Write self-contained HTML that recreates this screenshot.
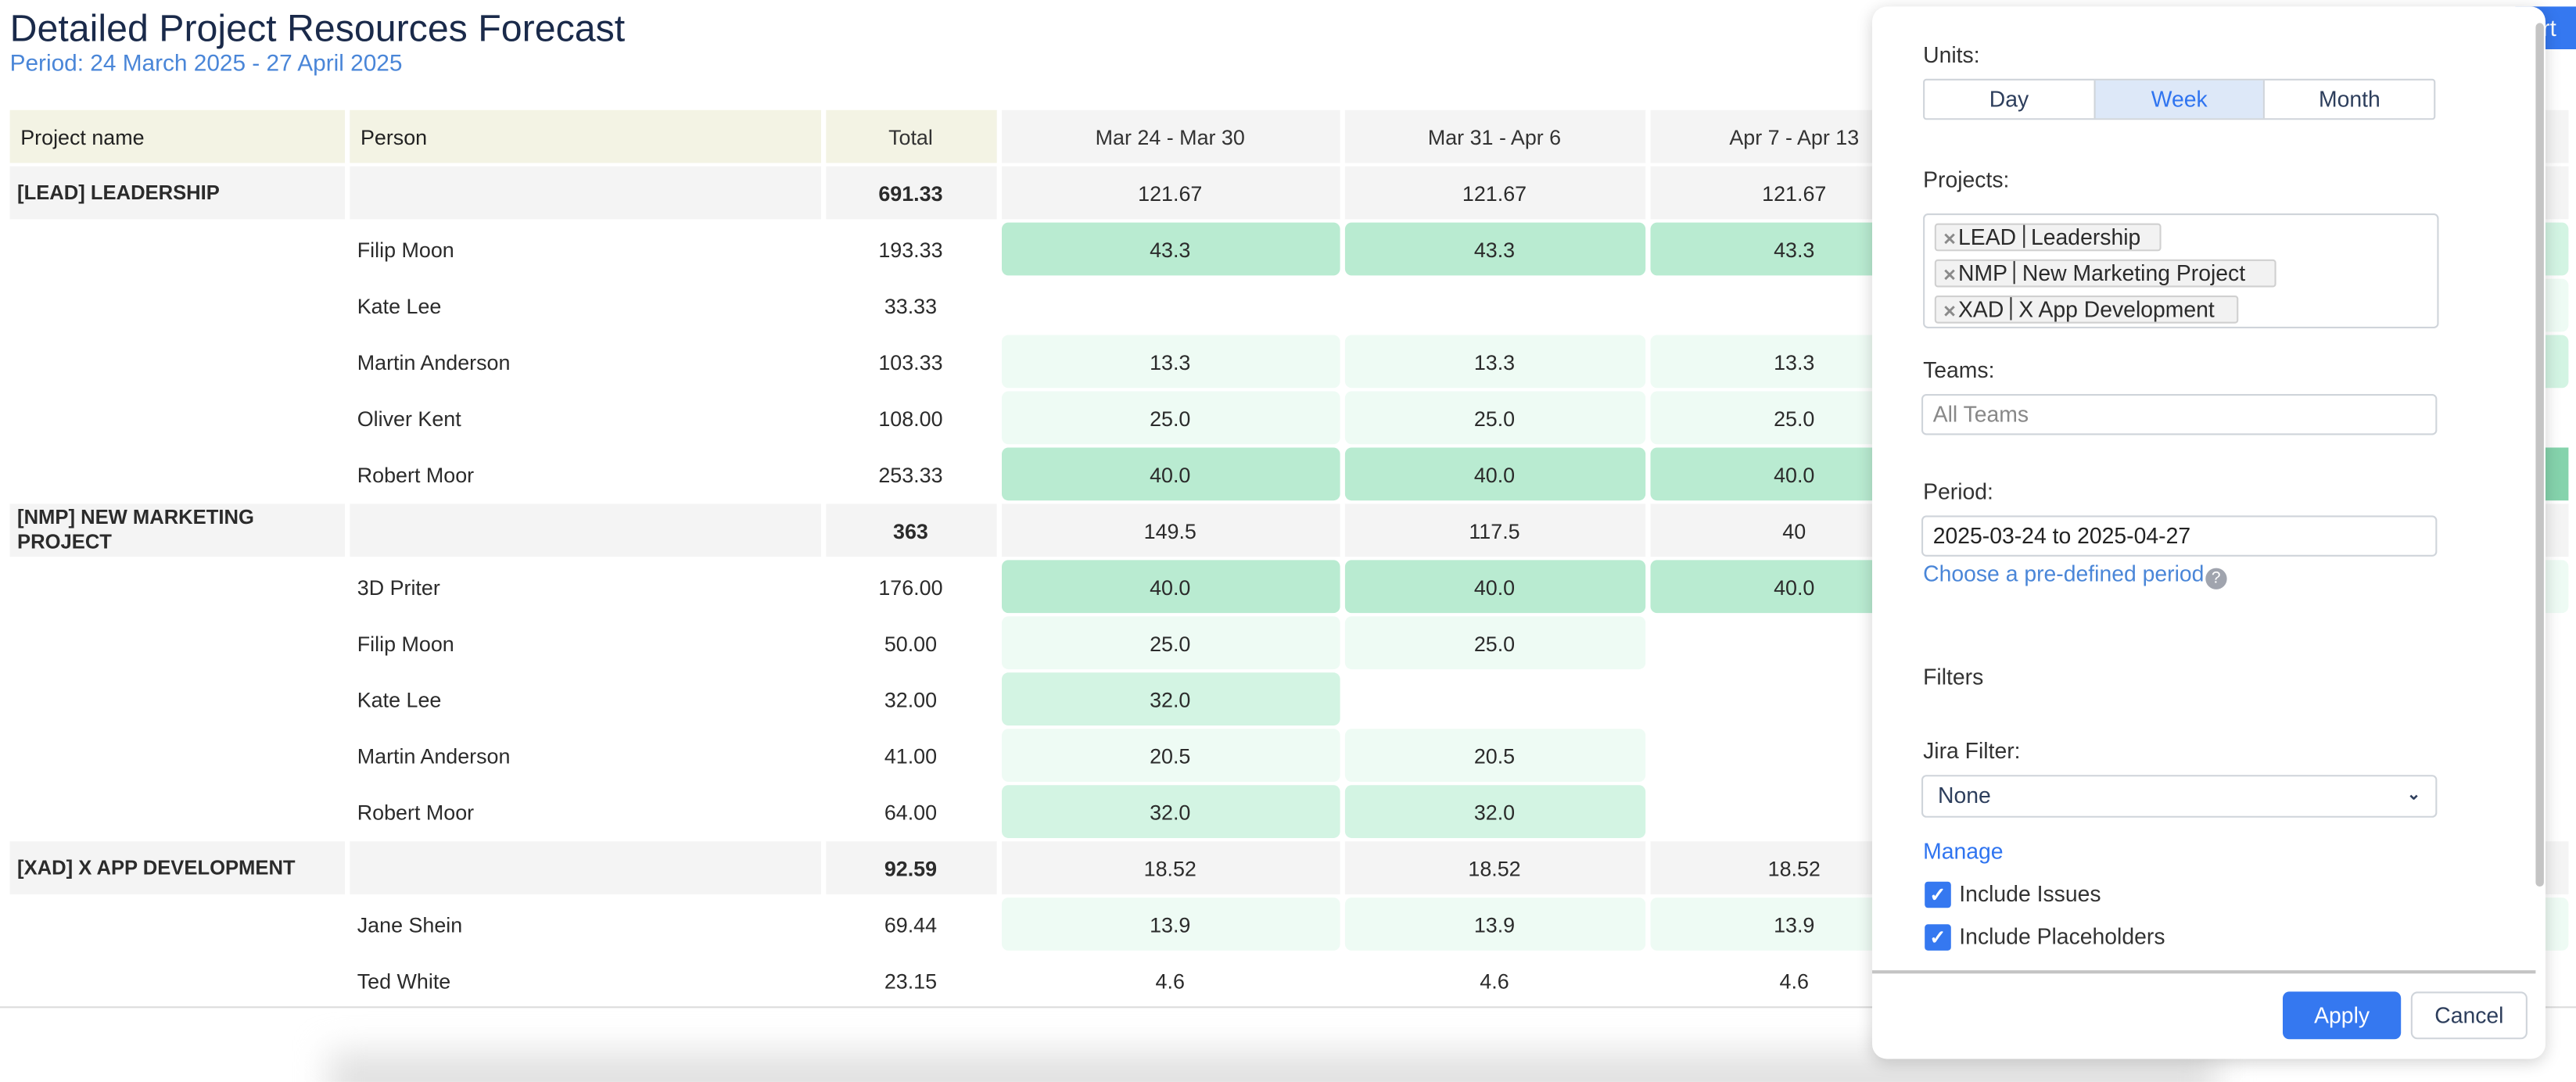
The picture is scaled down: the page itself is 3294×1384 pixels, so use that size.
<!DOCTYPE html>
<html><head><meta charset="utf-8"><style>
*{box-sizing:border-box;margin:0;padding:0}
html,body{width:3294px;height:1384px;overflow:hidden;background:#fff}
#w{position:absolute;left:0;top:0;width:1568.6px;height:659px;transform:scale(2.1);transform-origin:0 0;font-family:"Liberation Sans",sans-serif;color:#2b2b2b;background:#fff;overflow:hidden}
.abs{position:absolute}
h1{position:absolute;left:6px;top:4px;font-size:23px;font-weight:normal;color:#1a2a4a;white-space:nowrap}
.sub{position:absolute;left:6px;top:31px;font-size:14.2px;color:#4a86d8;white-space:nowrap}
table{position:absolute;left:2.5px;top:65px;border-collapse:separate;border-spacing:3.5px 2px;table-layout:fixed;font-size:12.8px;transform:scaleY(1.0078);transform-origin:0 0}
td{height:32px;padding:0;white-space:nowrap;overflow:hidden}
tr.h td{background:#f4f4f4;text-align:center;color:#333}
tr.h td.y{background:#f3f3e4;text-align:left;padding-left:7px;color:#222}
tr.h td.yc{background:#f3f3e4;text-align:center}
tr.p td{background:#f4f4f4;text-align:center}
tr.p td.n{text-align:left;padding-left:5px;font-weight:bold;font-size:12.2px;line-height:15px;white-space:normal}
tr.p td.t{font-weight:bold}
tr.r td{text-align:center}
tr.r td.pn{text-align:left;padding-left:5px}
td.d{background:#b9ebd1;border-radius:4px}
td.m{background:#d3f4e3;border-radius:4px}
td.l{background:#eefbf4;border-radius:4px}
td.x{background:#85d3ac}
.line{position:absolute;left:0;top:613px;width:1568.6px;height:1.4px;background:#dcdcdc}
.shadow{position:absolute;left:200px;top:640px;width:1150px;height:40px;background:#e2e2e2;filter:blur(10px)}
.exp{position:absolute;left:1528px;top:4px;width:50px;height:26px;background:#3578f0;border-radius:4px;color:#fff;font-size:14px;line-height:26px;padding-left:20px}
#pn{position:absolute;left:1140px;top:4px;width:410px;height:641px;background:#fff;border-radius:9px;box-shadow:0 2px 10px rgba(0,0,0,.18);font-size:13.5px;color:#333}
.lb{position:absolute;left:31px;white-space:nowrap}
.seg{position:absolute;left:31px;top:44px;width:312px;height:25px;border:1px solid #cfd4da;border-radius:2px;display:flex}
.seg div{flex:1;text-align:center;line-height:23px;color:#2d3e5c}
.seg div+div{border-left:1px solid #cfd4da}
.seg .on{background:#dde8f8;color:#2f74f0}
.box{position:absolute;left:31px;width:314px;border:1px solid #cfd4da;border-radius:3px}
.tag{position:absolute;left:6px;height:17px;background:#f2f2f2;border:1px solid #d0d0d0;border-radius:2px;font-size:13.5px;line-height:15px;padding-left:4px;white-space:nowrap;color:#2b2b2b}
.tag b{color:#8a8a8a;font-size:10px;font-weight:bold;margin-right:1px}
.tag i{display:inline-block;width:1px;height:14px;background:#333;vertical-align:-2px;margin:0 4px}
.inp{position:absolute;left:30px;width:314px;height:25px;border:1px solid #cfd4da;border-radius:3px;padding-left:6px;line-height:23px;white-space:nowrap}
.cb{position:absolute;left:32px;width:16px;height:16px;background:#3578f0;border-radius:2px;color:#fff;font-size:12px;line-height:16px;text-align:center;font-weight:bold}
.btn{position:absolute;top:600px;height:29px;border-radius:4px;text-align:center;line-height:29px;font-size:13.5px}
</style></head><body><div id="w">
<h1>Detailed Project Resources Forecast</h1>
<div class="sub">Period: 24 March 2025 - 27 April 2025</div>
<div class="exp">rt</div>
<table>
<colgroup><col style="width:204px"><col style="width:287px"><col style="width:104px"><col style="width:206px"><col style="width:183px"><col style="width:176px"><col style="width:380px"></colgroup>
<tr class="h"><td class="y">Project name</td><td class="y">Person</td><td class="yc">Total</td><td>Mar 24 - Mar 30</td><td>Mar 31 - Apr 6</td><td>Apr 7 - Apr 13</td><td></td></tr>
<tr class="p"><td class="n">[LEAD] LEADERSHIP</td><td></td><td class="t">691.33</td><td>121.67</td><td>121.67</td><td>121.67</td><td></td></tr>
<tr class="r"><td></td><td class="pn">Filip Moon</td><td>193.33</td><td class="d">43.3</td><td class="d">43.3</td><td class="d">43.3</td><td class="m"></td></tr>
<tr class="r"><td></td><td class="pn">Kate Lee</td><td>33.33</td><td></td><td></td><td></td><td class="l"></td></tr>
<tr class="r"><td></td><td class="pn">Martin Anderson</td><td>103.33</td><td class="l">13.3</td><td class="l">13.3</td><td class="l">13.3</td><td class="m"></td></tr>
<tr class="r"><td></td><td class="pn">Oliver Kent</td><td>108.00</td><td class="l">25.0</td><td class="l">25.0</td><td class="l">25.0</td><td></td></tr>
<tr class="r"><td></td><td class="pn">Robert Moor</td><td>253.33</td><td class="d">40.0</td><td class="d">40.0</td><td class="d">40.0</td><td class="x"></td></tr>
<tr class="p"><td class="n">[NMP] NEW MARKETING PROJECT</td><td></td><td class="t">363</td><td>149.5</td><td>117.5</td><td>40</td><td></td></tr>
<tr class="r"><td></td><td class="pn">3D Priter</td><td>176.00</td><td class="d">40.0</td><td class="d">40.0</td><td class="d">40.0</td><td class="l"></td></tr>
<tr class="r"><td></td><td class="pn">Filip Moon</td><td>50.00</td><td class="l">25.0</td><td class="l">25.0</td><td></td><td></td></tr>
<tr class="r"><td></td><td class="pn">Kate Lee</td><td>32.00</td><td class="m">32.0</td><td></td><td></td><td></td></tr>
<tr class="r"><td></td><td class="pn">Martin Anderson</td><td>41.00</td><td class="l">20.5</td><td class="l">20.5</td><td></td><td></td></tr>
<tr class="r"><td></td><td class="pn">Robert Moor</td><td>64.00</td><td class="m">32.0</td><td class="m">32.0</td><td></td><td></td></tr>
<tr class="p"><td class="n">[XAD] X APP DEVELOPMENT</td><td></td><td class="t">92.59</td><td>18.52</td><td>18.52</td><td>18.52</td><td></td></tr>
<tr class="r"><td></td><td class="pn">Jane Shein</td><td>69.44</td><td class="l">13.9</td><td class="l">13.9</td><td class="l">13.9</td><td class="l"></td></tr>
<tr class="r"><td></td><td class="pn">Ted White</td><td>23.15</td><td>4.6</td><td>4.6</td><td>4.6</td><td></td></tr>
</table>
<div class="line"></div>
<div class="shadow"></div>
<div id="pn">
<div class="lb" style="top:22px">Units:</div>
<div class="seg"><div>Day</div><div class="on">Week</div><div>Month</div></div>
<div class="lb" style="top:98px">Projects:</div>
<div class="box" style="top:126px;height:70px">
<div class="tag" style="top:5px;width:138px"><b>✕</b>LEAD<i></i>Leadership</div>
<div class="tag" style="top:27px;width:208px"><b>✕</b>NMP<i></i>New Marketing Project</div>
<div class="tag" style="top:49px;width:185px"><b>✕</b>XAD<i></i>X App Development</div>
</div>
<div class="lb" style="top:214px">Teams:</div>
<div class="inp" style="top:236px;color:#888">All Teams</div>
<div class="lb" style="top:288px">Period:</div>
<div class="inp" style="top:310px;color:#222">2025-03-24 to 2025-04-27</div>
<div class="lb" style="top:338px;color:#4a86d8">Choose a pre-defined period <span style="display:inline-block;width:13px;height:13px;border-radius:50%;background:#a0a4ae;color:#fff;font-size:10px;line-height:13px;text-align:center;vertical-align:-1px;margin-left:-3px">?</span></div>
<div class="lb" style="top:401px">Filters</div>
<div class="lb" style="top:446px">Jira Filter:</div>
<div class="inp" style="top:468px;height:26px;line-height:24px;padding-left:9px;color:#2d3e5c">None<span style="position:absolute;right:9px;top:0;font-size:10px;font-weight:bold">⌄</span></div>
<div class="lb" style="top:507px;color:#2f74f0">Manage</div>
<div class="cb" style="top:533px">✓</div><div class="lb" style="left:53px;top:533px">Include Issues</div>
<div class="cb" style="top:559px">✓</div><div class="lb" style="left:53px;top:559px">Include Placeholders</div>
<div class="abs" style="left:404px;top:10px;width:5px;height:526px;background:#c4c4c4;border-radius:3px"></div>
<div class="abs" style="left:0;top:587px;width:404px;height:1.5px;background:#c4c4c4"></div>
<div class="btn" style="left:250px;width:72px;background:#3578f0;color:#fff">Apply</div>
<div class="btn" style="left:328px;width:71px;border:1px solid #cfd4da;color:#2d3e5c;line-height:27px">Cancel</div>
</div>
</div></body></html>
